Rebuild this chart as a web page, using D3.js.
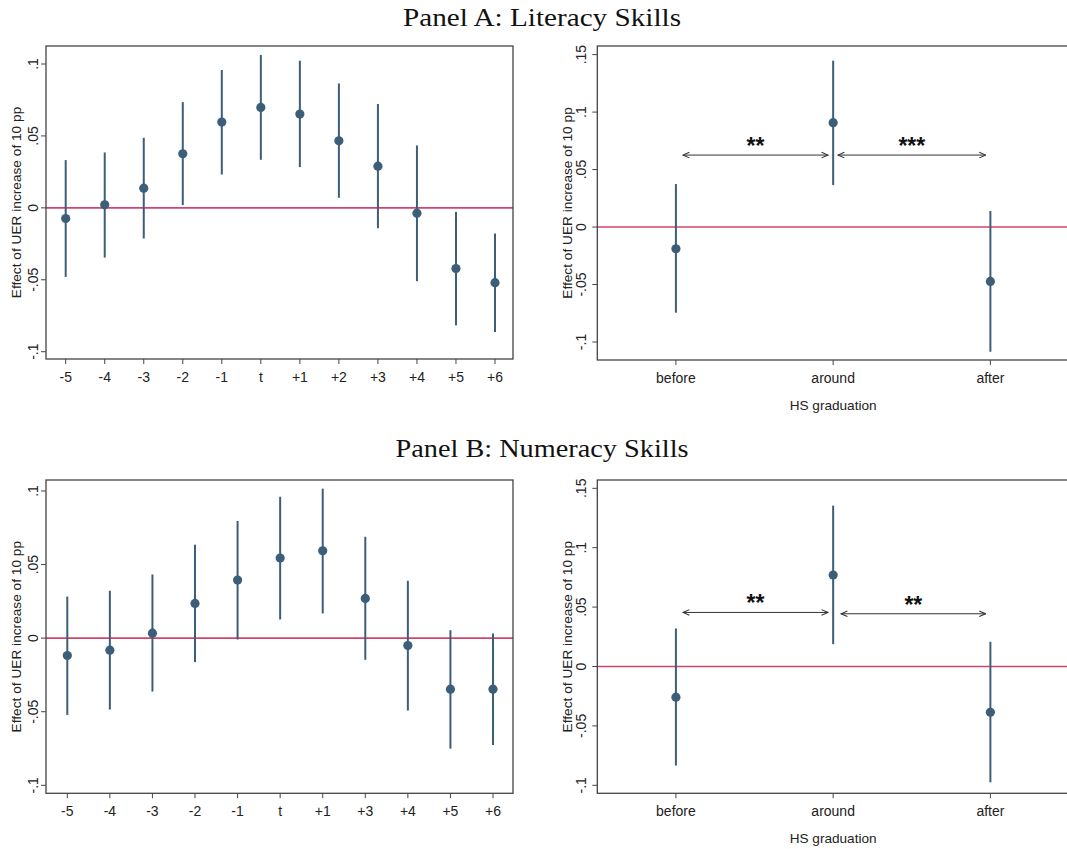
<!DOCTYPE html>
<html>
<head>
<meta charset="utf-8">
<script src="https://cdn.jsdelivr.net/npm/d3@7"></script>
<style>
  html, body { margin: 0; padding: 0; background: #fff; }
  svg { display: block; }
</style>
</head>
<body>
<svg id="fig" width="1067" height="849"></svg>
<script>
// ---- Event-study estimates (literacy, panel A) ----
const periodsA = ["-5", "-4", "-3", "-2", "-1", "t", "+1", "+2", "+3", "+4", "+5", "+6"];
const coefA = [-0.0074, 0.0021, 0.0137, 0.0376, 0.0596, 0.0698, 0.0652, 0.0466, 0.0290, -0.0037, -0.0422, -0.0520];
const loA   = [-0.0480, -0.0346, -0.0213, 0.0019, 0.0232, 0.0334, 0.0283, 0.0070, -0.0142, -0.0510, -0.0817, -0.0863];
const hiA   = [0.0332, 0.0385, 0.0487, 0.0735, 0.0958, 0.1063, 0.1023, 0.0865, 0.0722, 0.0434, -0.0028, -0.0179];

// ---- Event-study estimates (numeracy, panel B) ----
const periodsB = ["-5", "-4", "-3", "-2", "-1", "t", "+1", "+3", "+4", "+5", "+6"];
const coefB = [-0.0118, -0.0082, 0.0034, 0.0236, 0.0395, 0.0544, 0.0594, 0.0270, -0.0050, -0.0347, -0.0347];
const loB   = [-0.0522, -0.0485, -0.0363, -0.0163, -0.0009, 0.0127, 0.0168, -0.0147, -0.0492, -0.0751, -0.0726];
const hiB   = [0.0283, 0.0322, 0.0433, 0.0635, 0.0796, 0.0961, 0.1016, 0.0689, 0.0390, 0.0054, 0.0032];

// ---- Timing relative to HS graduation ----
const timing = ["before", "around", "after"];
const gradCoefA = [-0.0189, 0.0908, -0.0473];
const gradLoA   = [-0.0745, 0.0365, -0.1085];
const gradHiA   = [0.0374, 0.1447, 0.0139];
const gradCoefB = [-0.0258, 0.0770, -0.0385];
const gradLoB   = [-0.0834, 0.0188, -0.0975];
const gradHiB   = [0.0320, 0.1354, 0.0208];

// Significance of pairwise differences: [from, to, y-level, stars]
const diffsA = [[1.045, 1.967, 0.0626, "**"], [2.031, 2.970, 0.0626, "***"]];
const diffsB = [[1.045, 1.967, 0.0455, "**"], [2.050, 2.970, 0.0444, "**"]];

const leftTicks = [-0.1, -0.05, 0, 0.05, 0.1];
const rightTicks = [-0.1, -0.05, 0, 0.05, 0.1, 0.15];

const yTitle = "Effect of UER increase of 10 pp";
const xTitleRight = "HS graduation";

const C_MARK = "#3d5e78";
const C_ZERO = "#d2456a";
const C_FRAME = "#444";
const FONT = "'Liberation Sans', Arial, sans-serif";

const svg = d3.select("#fig");

svg.append("defs").append("marker")
  .attr("id", "chev")
  .attr("viewBox", "0 0 10 10")
  .attr("refX", 9).attr("refY", 5)
  .attr("markerWidth", 8).attr("markerHeight", 8)
  .attr("markerUnits", "userSpaceOnUse")
  .attr("orient", "auto-start-reverse")
  .append("path")
  .attr("d", "M1,1.5 L9,5 L1,8.5")
  .attr("fill", "none")
  .attr("stroke", "#333")
  .attr("stroke-width", 1.3);

// Stata-style tick labels: ".05", "-.1", "0"
function fmtTick(v) {
  if (v === 0) return "0";
  const s = String(+Math.abs(v).toFixed(3)).replace(/^0\./, ".");
  return (v < 0 ? "-" : "") + s;
}

function panelTitle(text, y, len) {
  svg.append("text")
    .attr("x", 542).attr("y", y)
    .attr("text-anchor", "middle")
    .attr("font-family", "'Liberation Serif', 'DejaVu Serif', serif")
    .attr("font-size", 25)
    .attr("fill", "#111")
    .attr("textLength", len)
    .attr("lengthAdjust", "spacingAndGlyphs")
    .text(text);
}

// One coefficient plot: frame, axes, zero line, CIs and point estimates.
function coefPlot(opt) {
  const g = svg.append("g");
  const { frame, x, y, cats, coef, lo, hi, ticks, labelOffset, titleX } = opt;

  // y ticks and rotated labels
  ticks.forEach(t => {
    g.append("line")
      .attr("x1", frame.l - 5).attr("x2", frame.l)
      .attr("y1", y(t)).attr("y2", y(t))
      .attr("stroke", C_FRAME).attr("stroke-width", 1);
    g.append("text")
      .attr("transform", `translate(${frame.l - labelOffset},${y(t)}) rotate(-90)`)
      .attr("text-anchor", "middle")
      .attr("font-family", FONT).attr("font-size", 14)
      .attr("fill", "#222")
      .text(fmtTick(t));
  });

  // y axis title
  g.append("text")
    .attr("transform", `translate(${titleX},${(frame.t + frame.b) / 2}) rotate(-90)`)
    .attr("text-anchor", "middle")
    .attr("font-family", FONT).attr("font-size", 13.7)
    .attr("fill", "#222")
    .text(yTitle);

  // x ticks and labels
  cats.forEach((c, i) => {
    const xv = opt.xval(c, i);
    g.append("line")
      .attr("x1", x(xv)).attr("x2", x(xv))
      .attr("y1", frame.b).attr("y2", frame.b + 5)
      .attr("stroke", C_FRAME).attr("stroke-width", 1);
    g.append("text")
      .attr("x", x(xv)).attr("y", frame.b + 22.5)
      .attr("text-anchor", "middle")
      .attr("font-family", FONT).attr("font-size", 14)
      .attr("fill", "#222")
      .text(c);
  });

  if (opt.xTitle) {
    g.append("text")
      .attr("x", x(2)).attr("y", frame.b + 49.5)
      .attr("text-anchor", "middle")
      .attr("font-family", FONT).attr("font-size", 13.6)
      .attr("fill", "#222")
      .text(opt.xTitle);
  }

  // zero reference line
  g.append("line")
    .attr("x1", frame.l).attr("x2", frame.r)
    .attr("y1", y(0)).attr("y2", y(0))
    .attr("stroke", C_ZERO).attr("stroke-width", 1.6);

  // confidence intervals
  g.selectAll("line.ci").data(cats).join("line")
    .attr("class", "ci")
    .attr("x1", (c, i) => x(opt.xval(c, i)))
    .attr("x2", (c, i) => x(opt.xval(c, i)))
    .attr("y1", (c, i) => y(lo[i]))
    .attr("y2", (c, i) => y(hi[i]))
    .attr("stroke", C_MARK).attr("stroke-width", 2);

  // point estimates
  g.selectAll("circle.pt").data(cats).join("circle")
    .attr("class", "pt")
    .attr("cx", (c, i) => x(opt.xval(c, i)))
    .attr("cy", (c, i) => y(coef[i]))
    .attr("r", 4.6)
    .attr("fill", C_MARK);

  // difference arrows with significance stars
  (opt.diffs || []).forEach(d => {
    g.append("line")
      .attr("x1", x(d[0])).attr("x2", x(d[1]))
      .attr("y1", y(d[2])).attr("y2", y(d[2]))
      .attr("stroke", "#333").attr("stroke-width", 1)
      .attr("marker-start", "url(#chev)")
      .attr("marker-end", "url(#chev)");
    g.append("text")
      .attr("x", x((d[0] + d[1]) / 2)).attr("y", y(d[2]) - 1)
      .attr("text-anchor", "middle")
      .attr("font-family", FONT).attr("font-size", 23)
      .attr("font-weight", "bold")
      .attr("fill", "#111")
      .text(d[3]);
  });

  // plot frame
  g.append("rect")
    .attr("x", frame.l).attr("y", frame.t)
    .attr("width", frame.r - frame.l).attr("height", frame.b - frame.t)
    .attr("fill", "none")
    .attr("stroke", C_FRAME).attr("stroke-width", 1.3);
}

// ---- Panel A ----
panelTitle("Panel A: Literacy Skills", 26, 278);

const xA = d3.scalePoint().domain(periodsA).range([65.7, 495]);
coefPlot({
  frame: { l: 46, r: 513, t: 46, b: 359 },
  x: xA, xval: c => c,
  y: d3.scaleLinear().domain([-0.1, 0.1]).range([351.7, 64]),
  cats: periodsA, coef: coefA, lo: loA, hi: hiA,
  ticks: leftTicks, labelOffset: 8.5, titleX: 20.5
});

const xAR = d3.scaleLinear().domain([0.5, 3.5]).range([597.3, 1069]);
coefPlot({
  frame: { l: 597.3, r: 1069, t: 46, b: 360 },
  x: xAR, xval: (c, i) => i + 1,
  y: d3.scaleLinear().domain([-0.1, 0.15]).range([342, 54.6]),
  cats: timing, coef: gradCoefA, lo: gradLoA, hi: gradHiA,
  ticks: rightTicks, labelOffset: 11, titleX: 571.5,
  xTitle: xTitleRight, diffs: diffsA
});

// ---- Panel B ----
panelTitle("Panel B: Numeracy Skills", 457, 293);

const xB = d3.scalePoint().domain(periodsB).range([67.3, 493]);
coefPlot({
  frame: { l: 46, r: 513, t: 480, b: 793.3 },
  x: xB, xval: c => c,
  y: d3.scaleLinear().domain([-0.1, 0.1]).range([785.3, 491]),
  cats: periodsB, coef: coefB, lo: loB, hi: hiB,
  ticks: leftTicks, labelOffset: 8.5, titleX: 20.5
});

const xBR = d3.scaleLinear().domain([0.5, 3.5]).range([597.3, 1069]);
coefPlot({
  frame: { l: 597.3, r: 1069, t: 480, b: 793.3 },
  x: xBR, xval: (c, i) => i + 1,
  y: d3.scaleLinear().domain([-0.1, 0.15]).range([785.3, 488.3]),
  cats: timing, coef: gradCoefB, lo: gradLoB, hi: gradHiB,
  ticks: rightTicks, labelOffset: 11, titleX: 571.5,
  xTitle: xTitleRight, diffs: diffsB
});
</script>
</body>
</html>
